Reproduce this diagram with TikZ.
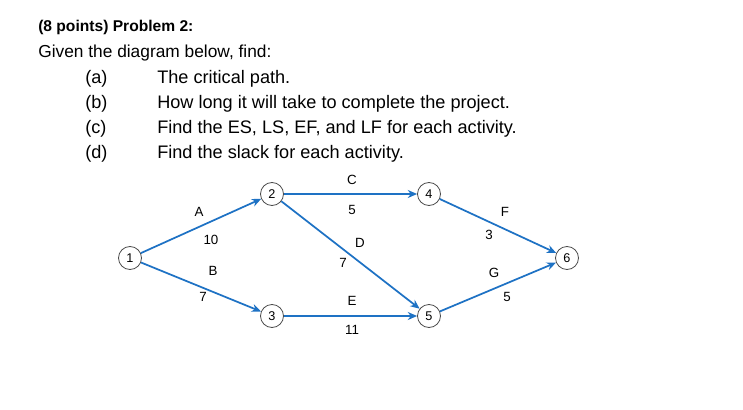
\documentclass[tikz,border=0pt]{standalone}
\usepackage{fontspec}
\setmainfont{Liberation Sans}
\usetikzlibrary{arrows.meta}
\definecolor{arrowblue}{RGB}{30,114,196}
\begin{document}
\begin{tikzpicture}[x=0.75pt,y=-0.75pt,
  ev/.style={circle,draw=black!70,line width=0.6pt,minimum size=23pt*0.75,inner sep=0pt,font=\fontsize{9.5}{10}\selectfont},
  act/.style={draw=arrowblue,line width=1.3pt,-{Stealth[length=7pt,width=6pt]}},
  lbl/.style={font=\fontsize{10}{11}\selectfont},
  txt/.style={anchor=west,inner sep=0pt,font=\fontsize{13}{15}\selectfont},
  itm/.style={anchor=west,inner sep=0pt,font=\fontsize{13.6}{15}\selectfont}]
\useasboundingbox (0,0) rectangle (743,410);
\node[txt,font=\fontsize{11.7}{13}\selectfont\bfseries] (t0) at (38,27) {(8 points) Problem 2:};
\node[txt] (t1) at (38,53) {Given the diagram below, find:};
\node[itm] (la) at (85,79) {(a)}; \node[itm] (ta) at (157,79) {The critical path.};
\node[itm] (lb) at (85,104) {(b)}; \node[itm] (tb) at (157,104) {How long it will take to complete the project.};
\node[itm] (lc) at (85,129) {(c)}; \node[itm] (tc) at (157,129) {Find the ES, LS, EF, and LF for each activity.};
\node[itm] (ld) at (85,154) {(d)}; \node[itm] (td) at (157,154) {Find the slack for each activity.};
\node[ev] (n1) at (130,258) {1};
\node[ev] (n2) at (272,194) {2};
\node[ev] (n3) at (272,316) {3};
\node[ev] (n4) at (429,194) {4};
\node[ev] (n5) at (429,316) {5};
\node[ev] (n6) at (567,258) {6};
\draw[act] (n1) -- (n2);
\draw[act] (n1) -- (n3);
\draw[act] (n2) -- (n4);
\draw[act] (n2) -- (n5);
\draw[act] (n3) -- (n5);
\draw[act] (n4) -- (n6);
\draw[act] (n5) -- (n6);
\node[lbl] (lA) at (199,212) {A};
\node[lbl] (dA) at (211,240) {10};
\node[lbl] (lB) at (213,271) {B};
\node[lbl] (dB) at (203,297) {7};
\node[lbl] (lC) at (352,180) {C};
\node[lbl] (dC) at (352,210) {5};
\node[lbl] (lD) at (360,243) {D};
\node[lbl] (dD) at (343,263) {7};
\node[lbl] (lE) at (352,301) {E};
\node[lbl] (dE) at (352,330) {11};
\node[lbl] (lF) at (505,212) {F};
\node[lbl] (dF) at (489,235) {3};
\node[lbl] (lG) at (494,273) {G};
\node[lbl] (dG) at (507,297) {5};
\end{tikzpicture}
\end{document}
